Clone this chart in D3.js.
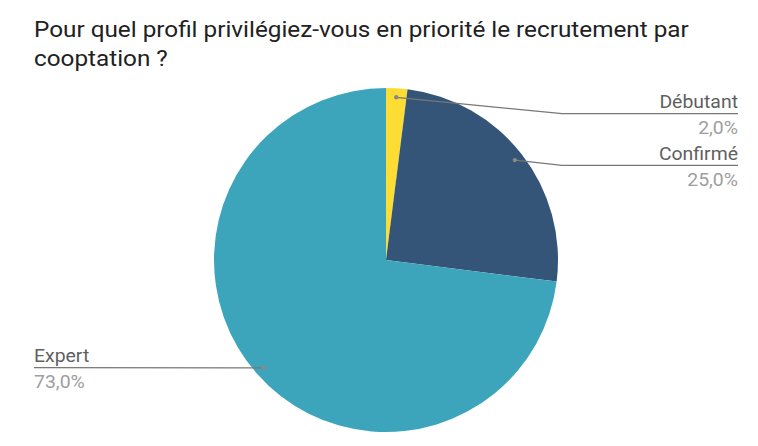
<!DOCTYPE html>
<html lang="fr">
  <head>
    <meta charset="utf-8">
    <title>Cooptation</title>
    <script src="https://d3js.org/d3.v7.min.js"></script>
    <style>
      body { margin: 0; background: #fff; }
    </style>
  </head>
  <body>
    <script type="text/javascript">
      var w = 758, h = 446;
      var categories = ["Débutant", "Confirmé", "Expert"];
      var values = [2.0, 25.0, 73.0];
      var colors = ["#FDDD33", "#345577", "#3DA5BB"];
      // label anchor: side and y of the horizontal leader line
      var labelSide = ["right", "right", "left"];
      var labelY = [113.7, 165.3, 367.7];

      var cx = 386, cy = 260, r = 172;

      var svg = d3.select("body").append("svg")
        .attr("width", w).attr("height", h)
        .style("font-family", "Roboto, sans-serif");

      // text is a little wider than plain Roboto in the reference
      function addText(x, y, str, size, fill, anchor, sx) {
        svg.append("text")
          .attr("transform", "translate(" + x + "," + y + ") scale(" + sx + ",1)")
          .attr("font-size", size).attr("fill", fill)
          .attr("text-anchor", anchor || "start")
          .text(str);
      }

      addText(34, 37, "Pour quel profil privilégiez-vous en priorité le recrutement par", 22.5, "#212121", "start", 1.08);
      addText(34, 65.5, "cooptation ?", 22.5, "#212121", "start", 1.08);

      var pie = d3.pie().sort(null).value(function(d){ return d; });
      var arcs = pie(values);
      var arc = d3.arc().innerRadius(0).outerRadius(r);
      var dotArc = d3.arc().innerRadius(163).outerRadius(163);

      var g = svg.append("g").attr("transform", "translate(" + cx + "," + cy + ")");
      g.selectAll("path").data(arcs).enter().append("path")
        .attr("d", arc)
        .attr("fill", function(d, i){ return colors[i]; });

      arcs.forEach(function(d, i){
        var p = dotArc.centroid(d);
        var px = cx + p[0], py = cy + p[1];
        var ly = labelY[i];
        var pts;
        if (labelSide[i] === "right") {
          pts = [[px, py], [562, ly], [738, ly]];
        } else {
          pts = [[px, py], [34, ly]];
        }
        svg.append("path")
          .attr("d", d3.line()(pts))
          .attr("fill", "none").attr("stroke", "#777").attr("stroke-width", 1.2);
        svg.append("circle").attr("cx", px).attr("cy", py).attr("r", 2.2).attr("fill", "#888");

        var tx = labelSide[i] === "right" ? 738 : 34;
        var anchor = labelSide[i] === "right" ? "end" : "start";
        addText(tx, ly - 5.5, categories[i], 18.5, "#5f5f5f", anchor, 1.05);
        addText(tx, ly + 20.5, values[i].toFixed(1).replace(".", ",") + "%", 18.5, "#9e9e9e", anchor, 1.05);
      });
    </script>
  </body>
</html>
